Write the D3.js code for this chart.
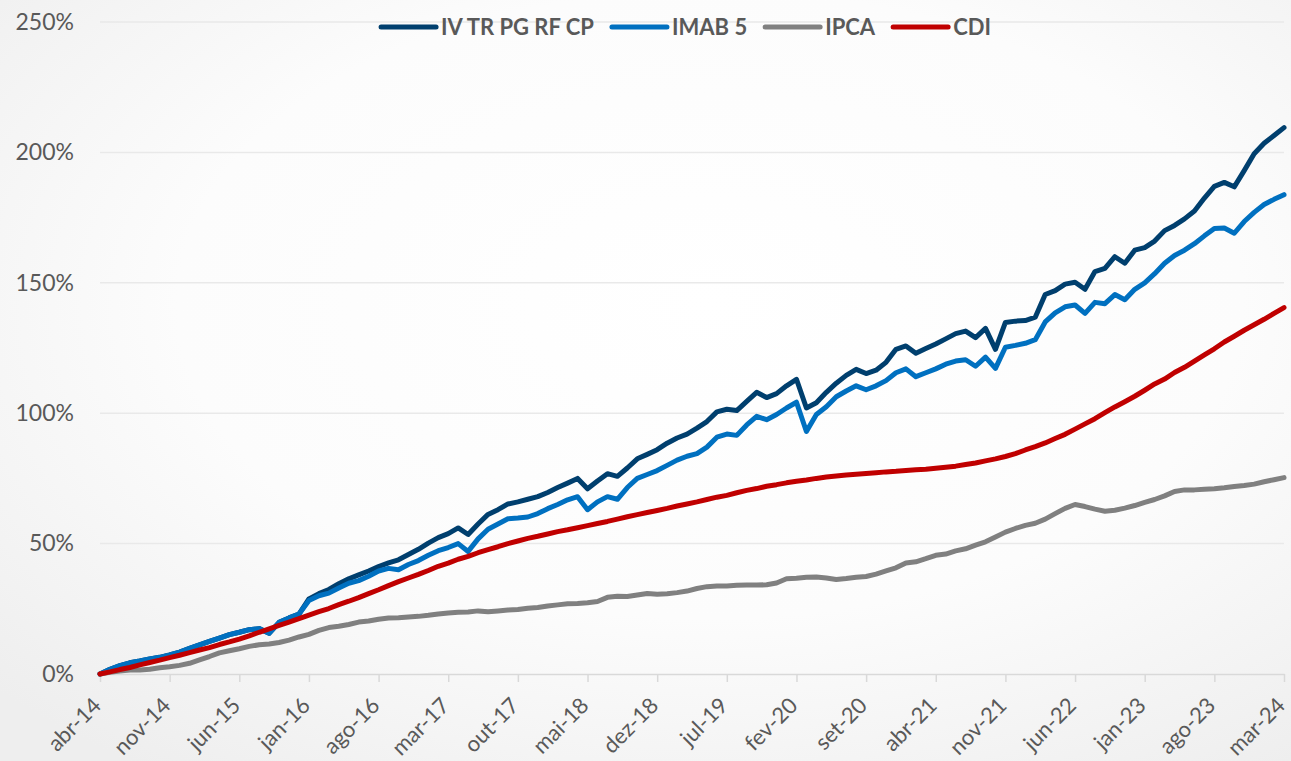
<!DOCTYPE html>
<html>
<head>
<meta charset="utf-8">
<script src="https://cdn.jsdelivr.net/npm/d3@7"></script>
<style>
  body { margin: 0; background: #fff; }
  svg { display: block; font-family: Lato, "Open Sans", sans-serif; }
</style>
</head>
<body>
<div id="chart"></div>
<script>
// Chart data (cumulative return, %)
// ==============================
var monthNames = ["jan", "fev", "mar", "abr", "mai", "jun", "jul", "ago", "set", "out", "nov", "dez"];
var tickLabels = ["abr-14", "nov-14", "jun-15", "jan-16", "ago-16", "mar-17", "out-17", "mai-18", "dez-18",
  "jul-19", "fev-20", "set-20", "abr-21", "nov-21", "jun-22", "jan-23", "ago-23", "mar-24"];

var seriesNames = ["IV TR PG RF CP", "IMAB 5", "IPCA", "CDI"];
var seriesColors = ["#003f6e", "#0070c0", "#808080", "#c00000"];

var ivtr = [
  0, 1.8, 3.2, 4.3, 5.0, 5.8, 6.4, 7.3, 8.4, 9.8,
  11.2, 12.5, 13.8, 15.1, 16.0, 17.0, 17.4, 15.6, 19.8, 21.5,
  23.0, 28.8, 30.8, 32.4, 34.6, 36.5, 38.0, 39.5, 41.2, 42.6,
  43.8, 45.8, 47.8, 50.2, 52.3, 53.8, 56.0, 53.5, 57.5, 61.2,
  63.0, 65.2, 66.0, 67.0, 68.0, 69.6, 71.5, 73.2, 75.0, 71.0,
  74.0, 76.8, 75.8, 79.0, 82.5, 84.2, 86.0, 88.5, 90.5, 92.0,
  94.3, 96.8, 100.5, 101.5, 101.0, 104.5, 108.0, 106.0, 107.5, 110.5,
  113.0, 102.0, 104.0, 108.0, 111.5, 114.5, 116.8, 115.2, 116.5, 119.5,
  124.5, 125.8, 123.0, 124.8, 126.5, 128.5, 130.5, 131.5, 129.0, 132.5,
  124.5, 134.8, 135.3, 135.5, 136.8, 145.5, 147.0, 149.5, 150.2, 147.5,
  154.3, 155.5, 160.0, 157.5, 162.5, 163.5, 166.0, 170.0, 172.0, 174.5,
  177.5, 182.5, 187.0, 188.5, 186.8, 193.0, 199.5, 203.5, 206.5, 209.5
];

var imab5 = [
  0, 1.8, 3.2, 4.3, 5.0, 5.8, 6.4, 7.3, 8.4, 9.8,
  11.2, 12.5, 13.8, 15.1, 16.0, 17.0, 17.4, 15.6, 19.8, 21.5,
  23.0, 28.2, 30.0, 31.0, 33.0, 34.8, 35.8, 37.5, 39.5, 40.5,
  40.0, 42.0, 43.5, 45.5, 47.3, 48.5, 50.0, 47.0, 51.8, 55.5,
  57.5, 59.5, 59.8, 60.2, 61.5, 63.4, 65.0, 66.8, 68.0, 63.0,
  66.0, 68.0, 67.0, 71.5, 75.0, 76.5, 78.0, 80.0, 82.0, 83.5,
  84.5, 87.0, 90.8, 92.0, 91.5, 95.5, 98.8, 97.5, 99.5, 102.0,
  104.2, 93.0, 99.5, 102.5, 106.3, 108.5, 110.5, 109.0, 110.5, 112.5,
  115.5, 117.0, 114.0, 115.5, 117.0, 118.8, 120.0, 120.5, 118.0, 121.5,
  117.2, 125.3, 126.0, 126.8, 128.2, 135.0, 138.5, 140.8, 141.5, 138.3,
  142.5, 142.0, 145.5, 143.5, 147.5, 150.0, 153.5, 157.5, 160.5, 162.5,
  165.0, 168.0, 170.8, 171.0, 169.0, 173.5, 177.0, 180.0, 182.0, 183.8
];

var ipca = [
  0, 0.7, 1.1, 1.5, 1.5, 1.8, 2.4, 2.8, 3.3, 4.1,
  5.4, 6.7, 8.1, 8.9, 9.7, 10.6, 11.2, 11.5, 12.1, 13.0,
  14.2, 15.2, 16.7, 17.8, 18.3, 19.0, 19.9, 20.3, 21.0, 21.5,
  21.6, 21.9, 22.1, 22.5, 23.0, 23.4, 23.7, 23.8, 24.2, 23.9,
  24.2, 24.5, 24.7, 25.2, 25.5, 26.1, 26.5, 26.9, 27.0, 27.3,
  27.8, 29.4, 29.8, 29.7, 30.3, 30.9, 30.6, 30.8, 31.2, 31.8,
  32.8, 33.5, 33.7, 33.7, 34.0, 34.1, 34.1, 34.2, 34.9, 36.5,
  36.7, 37.1, 37.2, 36.8, 36.2, 36.6, 37.1, 37.4, 38.3, 39.5,
  40.7, 42.6, 43.0, 44.2, 45.5, 46.0, 47.2, 48.0, 49.4, 50.7,
  52.5, 54.4, 55.8, 57.0, 57.8, 59.4, 61.5, 63.5, 65.0, 64.2,
  63.2, 62.4, 62.8, 63.6, 64.6, 65.8, 66.9, 68.3, 70.0, 70.6,
  70.6, 70.8, 71.0, 71.4, 71.9, 72.3, 72.8, 73.7, 74.5, 75.3
];

var cdi = [
  0, 0.8, 1.7, 2.5, 3.5, 4.4, 5.3, 6.3, 7.2, 8.2,
  9.2, 10.1, 11.3, 12.3, 13.4, 14.6, 16.0, 17.3, 18.6, 19.9,
  21.2, 22.6, 23.9, 25.1, 26.6, 27.9, 29.3, 30.8, 32.3, 33.9,
  35.4, 36.8, 38.2, 39.7, 41.3, 42.5, 44.0, 45.1, 46.5, 47.7,
  48.8, 50.0, 51.0, 52.0, 52.8, 53.7, 54.6, 55.3, 56.1, 56.9,
  57.7, 58.5, 59.4, 60.3, 61.1, 61.9, 62.7, 63.5, 64.4, 65.2,
  66.0, 66.9, 67.8, 68.5, 69.5, 70.4, 71.1, 72.0, 72.6, 73.3,
  73.9, 74.4, 75.0, 75.5, 75.9, 76.3, 76.6, 76.9, 77.2, 77.5,
  77.7, 78.0, 78.3, 78.5, 78.9, 79.3, 79.7, 80.3, 80.9, 81.7,
  82.5, 83.4, 84.5, 85.9, 87.2, 88.6, 90.3, 91.9, 93.9, 95.9,
  97.9, 100.2, 102.4, 104.4, 106.5, 108.8, 111.2, 113.1, 115.6, 117.6,
  120.0, 122.4, 124.7, 127.3, 129.5, 131.8, 133.9, 136.0, 138.3, 140.5
];

var yTicks = [0, 50, 100, 150, 200, 250];

// monthly categories abr-14 .. mar-24
var months = [];
for (var i = 0; i < ivtr.length; i++) {
  var mi = (3 + i) % 12;
  var yr = 14 + Math.floor((3 + i) / 12);
  months.push(monthNames[mi] + "-" + yr);
}

// SVG area
// ==============================
var svgWidth = 1291;
var svgHeight = 761;

var margin = { top: 22, right: 7, bottom: 87, left: 100 };
var width = svgWidth - margin.left - margin.right;
var height = svgHeight - margin.top - margin.bottom;

var svg = d3.select("#chart")
  .append("svg")
  .attr("width", svgWidth)
  .attr("height", svgHeight);

// soft grey background like the original
var defs = svg.append("defs");
var grad = defs.append("radialGradient")
  .attr("id", "bg")
  .attr("cx", "55%").attr("cy", "40%").attr("r", "75%");
grad.append("stop").attr("offset", "0%").attr("stop-color", "#ffffff");
grad.append("stop").attr("offset", "55%").attr("stop-color", "#fcfcfc");
grad.append("stop").attr("offset", "100%").attr("stop-color", "#eeeeee");

svg.append("rect")
  .attr("width", svgWidth)
  .attr("height", svgHeight)
  .attr("fill", "url(#bg)");

var chartGroup = svg.append("g")
  .attr("transform", `translate(${margin.left}, ${margin.top})`);

// Scales
// ==============================
var xScale = d3.scalePoint()
  .domain(months)
  .range([0, width]);

var yScale = d3.scaleLinear()
  .domain([0, 250])
  .range([height, 0]);

// Gridlines
// ==============================
chartGroup.append("g")
  .selectAll("line")
  .data(yTicks.slice(1))
  .join("line")
  .attr("x1", 0)
  .attr("x2", width)
  .attr("y1", d => yScale(d))
  .attr("y2", d => yScale(d))
  .attr("stroke", "#e9e9e9")
  .attr("stroke-width", 1.5);

// Axes
// ==============================
var yAxis = d3.axisLeft(yScale)
  .tickValues(yTicks)
  .tickSize(0)
  .tickPadding(26)
  .tickFormat(d => d + "%");

chartGroup.append("g")
  .call(yAxis)
  .call(g => g.select(".domain").remove())
  .selectAll("text")
  .attr("fill", "#595959")
  .style("font-size", "23px")
  .style("font-family", "Lato, sans-serif");

var xAxis = d3.axisBottom(xScale)
  .tickValues(tickLabels)
  .tickSize(8)
  .tickSizeOuter(0);

var xg = chartGroup.append("g")
  .attr("transform", `translate(0, ${height})`)
  .call(xAxis);

xg.select(".domain").attr("stroke", "#d9d9d9").attr("stroke-width", 1.5);
xg.selectAll(".tick line").attr("stroke", "#d9d9d9").attr("stroke-width", 1.5);
xg.selectAll(".tick text")
  .attr("fill", "#595959")
  .style("font-size", "22px")
  .style("font-family", "Lato, sans-serif")
  .attr("text-anchor", "end")
  .attr("y", 0)
  .attr("dy", 0)
  .attr("transform", "translate(2, 33) rotate(-45)");

// Lines
// ==============================
var allSeries = [ivtr, imab5, ipca, cdi];

var line = d3.line()
  .x((d, i) => xScale(months[i]))
  .y(d => yScale(d));

chartGroup.selectAll(".series")
  .data(allSeries)
  .join("path")
  .attr("class", "series")
  .attr("d", d => line(d))
  .attr("fill", "none")
  .attr("stroke", (d, i) => seriesColors[i])
  .attr("stroke-width", 5)
  .attr("stroke-linejoin", "round")
  .attr("stroke-linecap", "round");

// Legend
// ==============================
var legend = svg.append("g").attr("class", "legend");
var lx = 0;
seriesNames.forEach(function(name, i) {
  var item = legend.append("g").attr("transform", `translate(${lx}, 0)`);
  item.append("line")
    .attr("x1", 0).attr("x2", 55)
    .attr("y1", 27).attr("y2", 27)
    .attr("stroke", seriesColors[i])
    .attr("stroke-width", 5)
    .attr("stroke-linecap", "round");
  var t = item.append("text")
    .attr("x", 60)
    .attr("y", 35)
    .attr("fill", "#595959")
    .style("font-size", "22px")
    .style("font-weight", "bold")
    .style("font-family", "Lato, sans-serif")
    .text(name);
  lx += 60 + t.node().getComputedTextLength() + 18;
});
var legendWidth = lx - 18;
legend.attr("transform", `translate(${686 - legendWidth / 2}, 0)`);
</script>
</body>
</html>
